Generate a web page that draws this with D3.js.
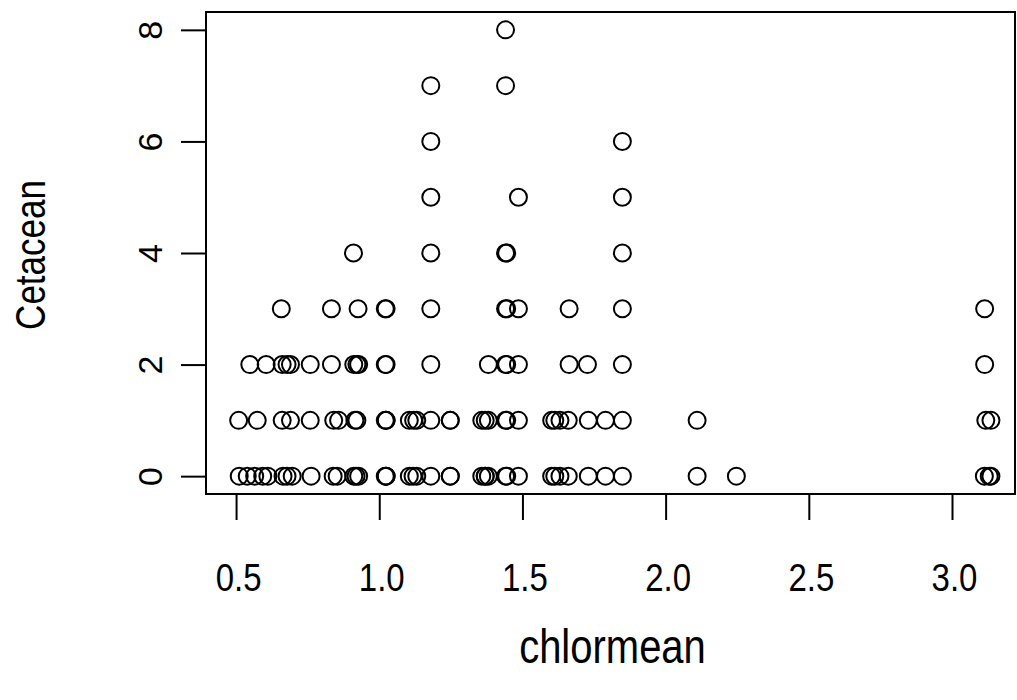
<!DOCTYPE html>
<html>
<head>
<meta charset="utf-8">
<script src="https://cdn.jsdelivr.net/npm/d3@7"></script>
<style>
  body { margin: 0; background: #fff; }
  svg { display: block; }
  text { font-family: "Liberation Sans", Arial, sans-serif; fill: #000; }
</style>
</head>
<body>
<svg id="chart"></svg>
<script>
// chlormean / Cetacean pairs, grouped by Cetacean count
const row0 = [0.511, 0.539, 0.565, 0.593, 0.611, 0.664, 0.678, 0.696, 0.762, 0.839, 0.853,
  0.911, 0.919, 0.928, 1.021, 1.024, 1.024, 1.105, 1.118, 1.131, 1.18, 1.248, 1.248,
  1.358, 1.370, 1.370, 1.381, 1.441, 1.445, 1.486, 1.602, 1.613, 1.631, 1.660, 1.730,
  1.790, 1.849, 2.110, 2.247, 3.113, 3.130, 3.136];
const row1 = [0.509, 0.574, 0.661, 0.690, 0.759, 0.841, 0.858, 0.915, 0.922, 1.021, 1.024,
  1.024, 1.105, 1.120, 1.131, 1.18, 1.248, 1.248, 1.358, 1.370, 1.381, 1.441, 1.445,
  1.486, 1.602, 1.613, 1.631, 1.660, 1.730, 1.790, 1.849, 2.110, 3.118, 3.136];
const row2 = [0.548, 0.605, 0.661, 0.678, 0.690, 0.759, 0.833, 0.911, 0.922, 0.928, 1.021,
  1.024, 1.18, 1.381, 1.441, 1.445, 1.486, 1.663, 1.727, 1.849, 3.114];
const row3 = [0.658, 0.833, 0.926, 1.021, 1.024, 1.18, 1.441, 1.445, 1.486, 1.663, 1.849, 3.114];
const row4 = [0.910, 1.18, 1.441, 1.445, 1.849];
const row5 = [1.18, 1.486, 1.849];
const row6 = [1.18, 1.849];
const row7 = [1.18, 1.441];
const row8 = [1.441];

const rows = [row0, row1, row2, row3, row4, row5, row6, row7, row8];
const xTicks = [0.5, 1.0, 1.5, 2.0, 2.5, 3.0];
const yTicks = [0, 2, 4, 6, 8];
const xLabel = "chlormean";
const yLabel = "Cetacean";

const points = [];
rows.forEach((vals, count) => vals.forEach(v => points.push({ chlormean: v, cetacean: count })));

const width = 1017, height = 700;
const box = { left: 206, right: 1015, top: 12, bottom: 494 };
const stretch = 1.2; // glyphs in the reference are taller than Arial

const svg = d3.select("#chart").attr("width", width).attr("height", height);

const x = d3.scaleLinear().domain([0.395, 3.22]).range([box.left, box.right]);
const y = d3.scaleLinear().domain([-0.32, 8.32]).range([box.bottom, box.top]);

// points
svg.append("g")
  .selectAll("circle")
  .data(points)
  .join("circle")
  .attr("cx", d => x(d.chlormean))
  .attr("cy", d => y(d.cetacean))
  .attr("r", 8.5)
  .attr("fill", "none")
  .attr("stroke", "#000")
  .attr("stroke-width", 2);

// box
svg.append("rect")
  .attr("x", box.left)
  .attr("y", box.top)
  .attr("width", box.right - box.left)
  .attr("height", box.bottom - box.top)
  .attr("fill", "none")
  .attr("stroke", "#000")
  .attr("stroke-width", 2);

// x axis
const xAxis = svg.append("g")
  .attr("transform", `translate(0,${box.bottom})`)
  .call(d3.axisBottom(x).tickValues(xTicks).tickFormat(d3.format(".1f")).tickSize(26));
xAxis.select(".domain").remove();
xAxis.selectAll(".tick line").attr("stroke", "#000").attr("stroke-width", 2);
xAxis.selectAll(".tick text")
  .attr("font-size", 33)
  .attr("font-family", "Liberation Sans, Arial, sans-serif")
  .attr("y", null).attr("dy", null)
  .attr("text-anchor", "middle")
  .attr("dominant-baseline", "central")
  .attr("transform", `translate(2,${577 - box.bottom}) scale(1,${stretch})`);

// y axis
const yAxis = svg.append("g")
  .attr("transform", `translate(${box.left},0)`)
  .call(d3.axisLeft(y).tickValues(yTicks).tickSize(25).tickFormat(d3.format("d")));
yAxis.select(".domain").remove();
yAxis.selectAll(".tick line").attr("stroke", "#000").attr("stroke-width", 2);
yAxis.selectAll(".tick text")
  .attr("font-size", 34)
  .attr("font-family", "Liberation Sans, Arial, sans-serif")
  .attr("x", null).attr("dy", null)
  .attr("text-anchor", "middle")
  .attr("dominant-baseline", "central")
  .attr("transform", "translate(-56,0) rotate(-90)");

// axis titles
svg.append("text")
  .attr("transform", `translate(${(box.left + box.right) / 2 + 2},646) scale(1,${stretch})`)
  .attr("text-anchor", "middle")
  .attr("dominant-baseline", "central")
  .attr("font-size", 40)
  .text(xLabel);

svg.append("text")
  .attr("transform", `translate(30,${(box.top + box.bottom) / 2 + 2}) rotate(-90) scale(1,${stretch})`)
  .attr("text-anchor", "middle")
  .attr("dominant-baseline", "central")
  .attr("font-size", 35)
  .text(yLabel);
</script>
</body>
</html>
